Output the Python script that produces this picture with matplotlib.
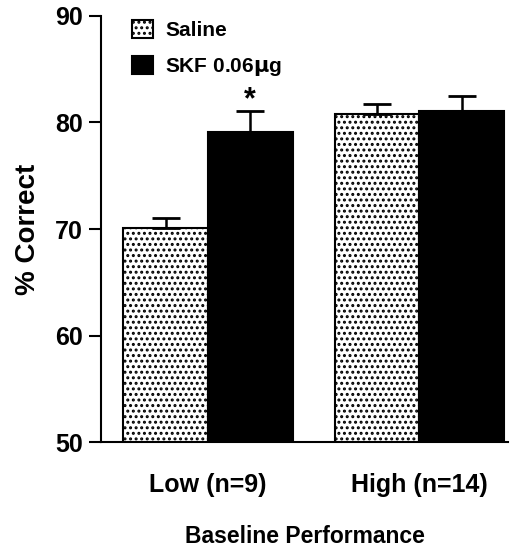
import matplotlib
matplotlib.use("Agg")
import matplotlib.pyplot as plt
import numpy as np

plt.rcParams['font.family'] = ['Liberation Sans', 'DejaVu Sans']
plt.rcParams['font.weight'] = 'bold'
plt.rcParams['hatch.linewidth'] = 1.4

# data
groups = ['Low (n=9)', 'High (n=14)']
saline = [70.1, 80.8]
saline_err = [0.9, 0.9]
skf = [79.1, 81.1]
skf_err = [2.0, 1.4]
yticks = [50, 60, 70, 80, 90]

fig = plt.figure(figsize=(5.25, 5.48), dpi=100)
ax = fig.add_axes([0.192, 0.193, 0.776, 0.778])

x = np.arange(len(groups))
w = 0.4
ax.bar(x - w / 2, saline, w, color='white', edgecolor='black',
       hatch='...', linewidth=1.5, label='Saline', zorder=2)
ax.bar(x + w / 2, skf, w, color='black', edgecolor='black',
       linewidth=1.5, label=r'SKF 0.06$\mathbf{\mu}$g', zorder=2)

# upper-only error bars
ax.errorbar(x - w / 2, saline, yerr=[np.zeros(2), saline_err], fmt='none',
            ecolor='black', elinewidth=1.8, capsize=10, capthick=2, zorder=3)
ax.errorbar(x + w / 2, skf, yerr=[np.zeros(2), skf_err], fmt='none',
            ecolor='black', elinewidth=1.8, capsize=10, capthick=2, zorder=3)

ax.text(x[0] + w / 2, skf[0] + skf_err[0] + 1.0, '*', ha='center', va='center',
        fontsize=22, fontweight='bold')

ax.set_ylim(50, 90)
ax.set_xlim(-0.507, 1.42)
ax.set_yticks(yticks)
ax.set_xticks(x)
ax.set_xticklabels(groups)
ax.tick_params(axis='y', direction='out', length=9, width=1.5, labelsize=18, pad=4)
ax.tick_params(axis='x', length=0, labelsize=18, pad=22)
for s in ['top', 'right']:
    ax.spines[s].set_visible(False)
ax.spines['left'].set_linewidth(1.5)
ax.spines['bottom'].set_linewidth(1.5)

ax.set_ylabel('% Correct', fontsize=20, fontweight='bold', labelpad=10)
ax.set_xlabel('Baseline Performance', fontsize=16.5, fontweight='bold', labelpad=20)

ax.legend(loc='upper left', bbox_to_anchor=(0.03, 1.035), frameon=False,
          fontsize=15, handlelength=1.0, handleheight=1.0, handletextpad=0.6,
          labelspacing=0.75)

fig.savefig('out.png', dpi=100)
